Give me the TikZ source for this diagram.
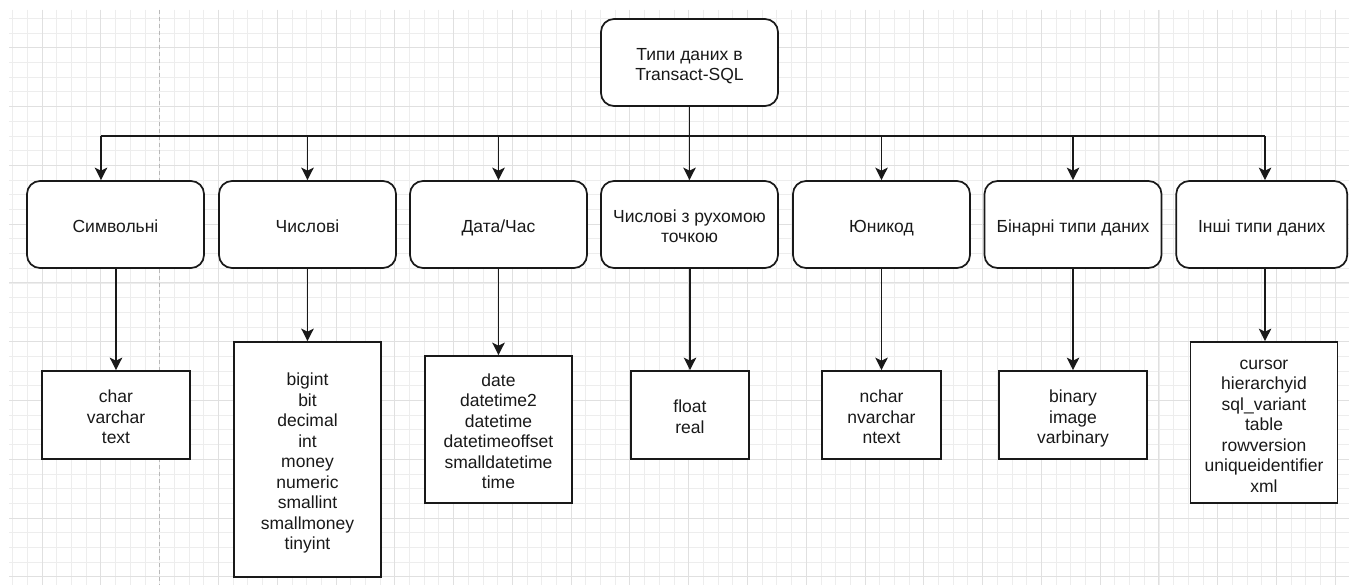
\documentclass[tikz,border=0pt]{standalone}
\usepackage{fontspec}
\setmainfont{Liberation Sans}
\usetikzlibrary{arrows.meta}
% centred stack of lines, with extra room on top so it sits a little low
\newcommand\cellstack[1]{\raisebox{0pt}[\dimexpr\height+8pt\relax][\depth]{\begin{tabular}{@{}c@{}}#1\end{tabular}}}
\begin{document}
\begin{tikzpicture}[x=1pt,y=-1pt,
  gridminor/.style={draw=black!7,line width=0.6pt},
  gridmajor/.style={draw=black!12,line width=0.8pt},
  pagebreak/.style={draw=black!28,line width=0.8pt,dash pattern=on 4pt off 3pt},
  txt/.style={font=\fontsize{17.5}{20.5}\selectfont,text=black!90},
  catbox/.style={txt,draw=black!90,line width=1.7pt,fill=white,rounded corners=13pt,
    minimum height=87pt,inner sep=0pt},
  listbox/.style={txt,draw=black!90,line width=1.7pt,fill=white,inner sep=0pt},
  arr/.style={draw=black!90,line width=1.7pt,-{Stealth[length=12.5pt,width=12.5pt,inset=3pt]}},
  link/.style={draw=black!90,line width=1.7pt}]
\useasboundingbox (0,0) rectangle (1349,585);
\fill[white] (0,0) rectangle (1349,585);

% background grid
\begin{scope}
\clip (9,10) rectangle (1349,585);
\foreach \i in {0,...,92} \draw[gridminor] ({12.6+14.695*\i},10) -- ({12.6+14.695*\i},585);
\foreach \j in {0,...,40} \draw[gridminor] (9,{18.3+14.695*\j}) -- (1349,{18.3+14.695*\j});
\foreach \i in {0,1,3,4,...,23} \draw[gridmajor] ({42+58.78*\i},10) -- ({42+58.78*\i},585);
\foreach \j in {0,...,9} \draw[gridmajor] (9,{47.7+58.78*\j}) -- (1349,{47.7+58.78*\j});
\draw[pagebreak] (159.6,10) -- (159.6,585);
\end{scope}

% root
\node[catbox,minimum width=177pt] (root) at (689.5,62.5) {\cellstack{Типи даних в\\Transact-SQL}};

% categories
\node[catbox,minimum width=177pt] (c1) at (115.5,224.5) {\cellstack{Символьні}};
\node[catbox,minimum width=177pt] (c2) at (307.5,224.5) {\cellstack{Числові}};
\node[catbox,minimum width=177pt] (c3) at (498.5,224.5) {\cellstack{Дата/Час}};
\node[catbox,minimum width=177pt] (c4) at (689.5,224.5) {\cellstack{Числові з рухомою\\точкою}};
\node[catbox,minimum width=177pt] (c5) at (881.5,224.5) {\cellstack{Юникод}};
\node[catbox,minimum width=177pt] (c6) at (1073,224.5) {\cellstack{Бінарні типи даних}};
\node[catbox,minimum width=171pt] (c7) at (1261.75,224.5) {\cellstack{Інші типи даних}};

% type lists
\node[listbox,minimum width=148pt,minimum height=88pt] (l1) at (116,415)
  {\cellstack{char\\varchar\\text}};
\node[listbox,minimum width=147pt,minimum height=235pt] (l2) at (307.5,459.5)
  {\cellstack{bigint\\bit\\decimal\\int\\money\\numeric\\smallint\\smallmoney\\tinyint}};
\node[listbox,minimum width=147pt,minimum height=147pt] (l3) at (498.5,429.5)
  {\cellstack{date\\datetime2\\datetime\\datetimeoffset\\smalldatetime\\time}};
\node[listbox,minimum width=118pt,minimum height=88pt] (l4) at (690,415)
  {\cellstack{float\\real}};
\node[listbox,minimum width=119pt,minimum height=88pt] (l5) at (881.5,415)
  {\cellstack{nchar\\nvarchar\\ntext}};
\node[listbox,minimum width=148pt,minimum height=88pt] (l6) at (1073,415)
  {\cellstack{binary\\image\\varbinary}};
\node[listbox,minimum width=147pt,minimum height=161pt] (l7) at (1264,422.5)
  {\cellstack{cursor\\hierarchyid\\sql\_variant\\table\\rowversion\\uniqueidentifier\\xml}};

% distribution bus
\coordinate (hub) at (689.5,136);
\coordinate (b1) at (101,136);
\coordinate (b2) at (307.5,136);
\coordinate (b3) at (498.5,136);
\coordinate (b4) at (689.5,136);
\coordinate (b5) at (881.5,136);
\coordinate (b6) at (1073,136);
\coordinate (b7) at (1265,136);
\draw[link] (root.south) -- (hub);
\draw[link] (b1) -- (b7);
\foreach \k in {1,...,7} \draw[arr] (b\k) -- (b\k |- c\k.north);

% category to list
\foreach \k in {1,...,6} \draw[arr] (l\k.north |- c\k.south) -- (l\k.north);
\draw[arr] (b7 |- c7.south) -- (b7 |- l7.north);
\end{tikzpicture}
\end{document}
